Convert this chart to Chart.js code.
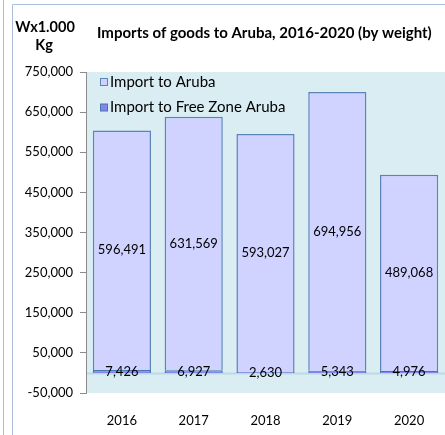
<!DOCTYPE html>
<html>
<head>
<meta charset="utf-8">
<script src="https://cdn.jsdelivr.net/npm/chart.js@4/dist/chart.umd.min.js"></script>
<style>
  html, body { margin: 0; padding: 0; background: #fff; }
  #wrap { width: 445px; height: 435px; }
</style>
</head>
<body>
<div id="wrap"><canvas id="myChart" width="445" height="435"></canvas></div>
<script>
// datos
const years = ['2016', '2017', '2018', '2019', '2020'];
const importAruba = [596491, 631569, 593027, 694956, 489068];
const importFreeZone = [7426, 6927, 2630, 5343, 4976];
const yTicks = [-50000, 50000, 150000, 250000, 350000, 450000, 550000, 650000, 750000];

const titleText = 'Imports of goods to Aruba, 2016-2020 (by weight)';
const unitText = ['Wx1.000', 'Kg'];
const fontFam = 'Lato, "Open Sans", sans-serif';

const fmt = v => v.toLocaleString('en-US');

// fondo, marco, titulo, leyenda y etiquetas
const decoPlugin = {
    id: 'deco',
    beforeDraw(chart) {
        const ctx = chart.ctx;
        const a = chart.chartArea;
        ctx.save();
        ctx.fillStyle = '#fff';
        ctx.fillRect(0, 0, chart.width, chart.height);
        // marco exterior
        ctx.strokeStyle = '#a9c0dc';
        ctx.lineWidth = 1;
        ctx.beginPath();
        ctx.moveTo(3.5, 0); ctx.lineTo(3.5, chart.height);
        ctx.moveTo(12.5, chart.height); ctx.lineTo(12.5, 4.5); ctx.lineTo(chart.width, 4.5);
        ctx.stroke();
        // fondo del area
        ctx.fillStyle = '#daedf3';
        ctx.fillRect(a.left, a.top, a.right - a.left, a.bottom - a.top);
        // linea de cero
        const y0 = Math.round(chart.scales.y.getPixelForValue(0)) + 0.5;
        ctx.strokeStyle = '#b9d9e7';
        ctx.lineWidth = 2;
        ctx.beginPath();
        ctx.moveTo(a.left, y0); ctx.lineTo(a.right, y0);
        ctx.stroke();
        // titulos
        ctx.fillStyle = '#000';
        ctx.textBaseline = 'middle';
        ctx.font = 'bold 15px ' + fontFam;
        ctx.textAlign = 'left';
        ctx.fillText(titleText, 97, 33);
        ctx.textAlign = 'center';
        ctx.font = 'bold 14.5px ' + fontFam;
        ctx.fillText(unitText[0], 45, 27);
        ctx.fillText(unitText[1], 44, 45);
        ctx.restore();
    },
    afterDatasetsDraw(chart) {
        const ctx = chart.ctx;
        ctx.save();
        ctx.fillStyle = '#000';
        ctx.font = '13px ' + fontFam;
        ctx.textAlign = 'center';
        ctx.textBaseline = 'middle';
        chart.data.datasets.forEach((ds, i) => {
            chart.getDatasetMeta(i).data.forEach((bar, j) => {
                const p = bar.getCenterPoint();
                ctx.fillText(fmt(ds.data[j]), p.x, p.y);
            });
        });
        // leyenda dentro del area
        const items = chart.data.datasets.slice().reverse();
        const lx = chart.chartArea.left + 14;
        ctx.font = '15px ' + fontFam;
        items.forEach((ds, k) => {
            const cy = 82 + k * 25.5;
            ctx.fillStyle = ds.backgroundColor;
            ctx.fillRect(lx, cy - 3.5, 7, 7);
            ctx.strokeStyle = ds.borderColor;
            ctx.lineWidth = 1;
            ctx.strokeRect(lx + 0.5, cy - 3.5, 7, 7);
            ctx.fillStyle = '#000';
            ctx.textAlign = 'left';
            ctx.fillText(ds.label, lx + 10, cy);
        });
        ctx.restore();
    }
};

const ctx = document.getElementById('myChart').getContext('2d');
const chart = new Chart(ctx, {
    type: 'bar',
    data: {
        labels: years,
        datasets: [
            {
                label: 'Import to Free Zone Aruba',
                data: importFreeZone,
                backgroundColor: '#8585ee',
                borderColor: '#4a77aa',
                borderWidth: 1.5,
                categoryPercentage: 1,
                barPercentage: 0.81
            },
            {
                label: 'Import to Aruba',
                data: importAruba,
                backgroundColor: '#d0d2ff',
                borderColor: '#5a84b6',
                borderWidth: 1.5,
                categoryPercentage: 1,
                barPercentage: 0.81
            }
        ]
    },
    options: {
        responsive: false,
        animation: false,
        layout: { padding: { top: 72, right: 0, left: 0, bottom: 0 } },
        plugins: {
            legend: { display: false },
            tooltip: { enabled: false }
        },
        scales: {
            x: {
                stacked: true,
                grid: { display: false },
                border: { display: false },
                ticks: { color: '#000', font: { family: fontFam, size: 13 }, padding: 12 },
                afterFit: s => { s.height = 42; }
            },
            y: {
                stacked: true,
                min: -50000,
                max: 750000,
                afterBuildTicks: s => { s.ticks = yTicks.map(v => ({ value: v })); },
                grid: { drawOnChartArea: false, drawTicks: true, tickLength: 6, color: '#8c8c8c' },
                border: { display: true, color: '#8c8c8c' },
                ticks: {
                    color: '#000',
                    padding: 7,
                    font: { family: fontFam, size: 13 },
                    callback: v => fmt(v)
                },
                afterFit: s => { s.width = 86; }
            }
        }
    },
    plugins: [decoPlugin]
});
</script>
</body>
</html>
